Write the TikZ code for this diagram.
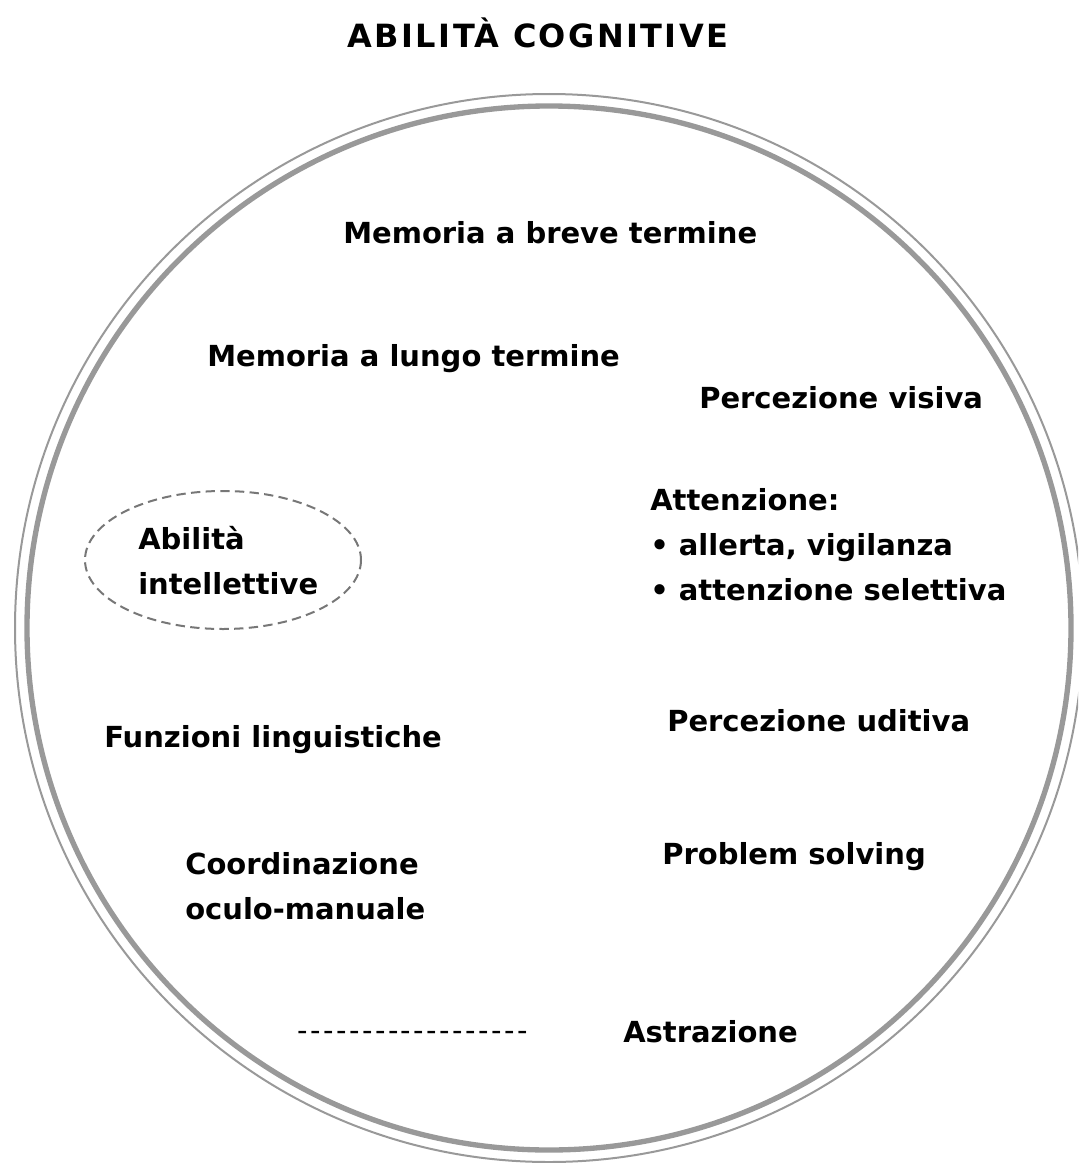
\documentclass[tikz,border=0pt]{standalone}
\usepackage{fontspec}
\setmainfont{DejaVu Sans}
\newfontfamily\dashfont[LetterSpace=8.6]{DejaVu Sans}
\newfontfamily\titlefont[LetterSpace=7.5]{DejaVu Sans}
\tikzset{
  lbl/.style={anchor=base west, inner sep=0pt, font=\fontsize{21.75}{33.75}\selectfont\bfseries, align=left},
}
\definecolor{rimgray}{HTML}{999999}
\definecolor{dashgray}{HTML}{777777}
\begin{document}
\begin{tikzpicture}[x=0.75pt,y=-0.75pt]
        \useasboundingbox (0,0) rectangle (1078,1163);
        \begin{scope}
        \clip (0,0) rectangle (1078,1163);
        \draw[rimgray, line width=1.5pt] (549,628) circle[radius=534];
        \draw[rimgray, line width=4pt] (549,628) circle[radius=522];
        \end{scope}

        \node[lbl, anchor=base, font=\fontsize{24}{30}\titlefont\bfseries] (title) at (538,48) {ABILITÀ COGNITIVE};

        \node[lbl] (mbreve) at (343,243) {Memoria a breve termine};
        \node[lbl] (mlungo) at (207,366) {Memoria a lungo termine};
        \node[lbl] (pvisiva) at (699,408) {Percezione visiva};
        \node[lbl] (attenz) at (650,600) {Attenzione:\\• allerta, vigilanza\\• attenzione selettiva};
        \node[lbl] (intell) at (138,594) {Abilità\\intellettive};
        \node[lbl] (ling) at (104,747) {Funzioni linguistiche};
        \node[lbl] (puditiva) at (667,731) {Percezione uditiva};
        \node[lbl] (coord) at (185,919) {Coordinazione\\oculo-manuale};
        \node[lbl] (probl) at (662,864) {Problem solving};
        \node[lbl] (astr) at (623,1042) {Astrazione};
        \node[lbl, font=\fontsize{21.75}{33.75}\dashfont] (trattini) at (297,1040) {------------------};

        \draw[dashgray, line width=1.5pt, dashed, dash pattern=on 7pt off 4pt] (223,560) ellipse[x radius=138, y radius=69];
\end{tikzpicture}
\end{document}
